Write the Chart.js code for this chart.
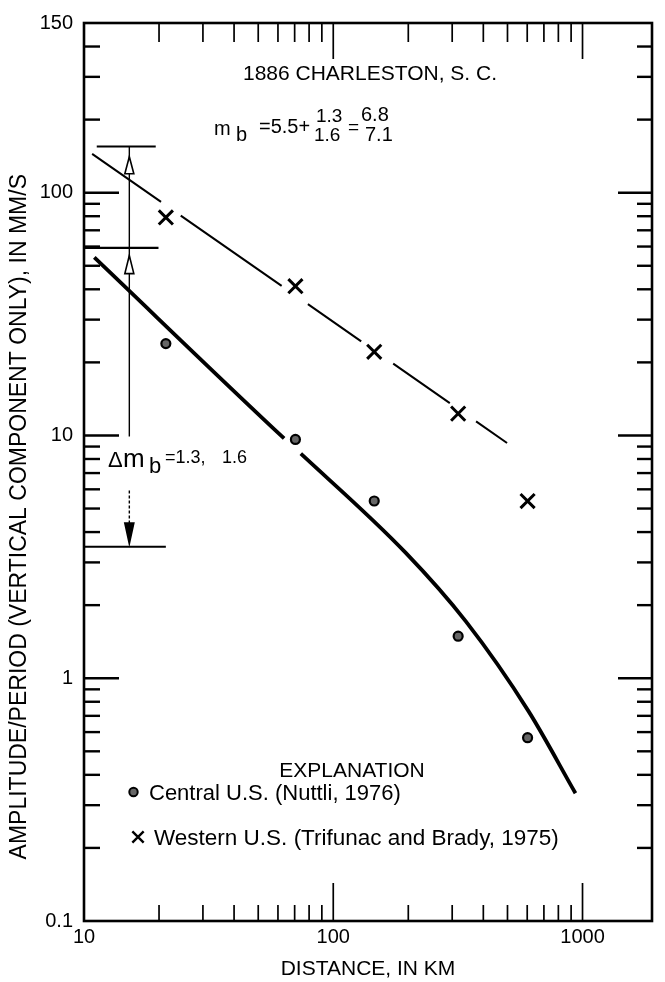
<!DOCTYPE html>
<html><head><meta charset="utf-8">
<script src="https://cdn.jsdelivr.net/npm/chart.js@4.4.0/dist/chart.umd.min.js"></script>
<style>html,body{margin:0;padding:0;background:#fff;} canvas{display:block;}</style>
</head><body>
<canvas id="c" width="665" height="982"></canvas>
<script>
// ---- data ----
const DISTANCE_KM      = [21.3, 70.5, 146, 317, 602];
const CENTRAL_US_MMS   = [23.9, 9.63, 5.37, 1.49, 0.569];
const WESTERN_US_MMS   = [79.1, 41.2, 22.1, 12.3, 5.37];
const CENTRAL_CURVE_KM  = [11.0, 63.5, 74.1, 195, 341, 607, 937];
const CENTRAL_CURVE_MMS = [54.1, 9.72, 8.41, 3.29, 1.71, 0.732, 0.336];
const WESTERN_LINE_KM   = [10.78, 498];
const WESTERN_LINE_MMS  = [144.6, 9.31];
const X_TICK_VALUES = [10,20,30,40,50,60,70,80,90,100,200,300,400,500,600,700,800,900,1000];
const X_LABEL_VALUES = [10, 100, 1000];
const X_LABEL_TEXT   = ['10', '100', '1000'];
const Y_TICK_VALUES = [0.1,0.2,0.3,0.4,0.5,0.6,0.7,0.8,0.9,1,2,3,4,5,6,7,8,9,10,20,30,40,50,60,70,80,90,100,200,300,400,500];
const Y_LABEL_VALUES = [0.1, 1, 10, 100, 500];
const Y_LABEL_TEXT   = ['0.1', '1', '10', '100', '150'];
// delta-mb bracket (km, mm/s)
const BRACKET_X_KM = 15.2;
const BRACKET_LEVELS_MMS = [155, 59.3, 3.48];
const BRACKET_LEVEL_SPAN_KM = [[11.25, 19.4], [10, 19.9], [10, 21.3]];

const FONT = "'Liberation Sans', Arial, Helvetica, sans-serif";
const same = (a, b) => Math.abs(Math.log10(a) - Math.log10(b)) < 1e-6;
const labelFor = (v, vals, txts) => { const i = vals.findIndex(t => same(t, v)); return i < 0 ? '' : txts[i]; };

const frameAndTicks = {
  id: 'frameAndTicks',
  afterDatasetsDraw(chart) {
    const {ctx, chartArea: a, scales: {x, y}} = chart;
    const line = (x1, y1, x2, y2) => { ctx.beginPath(); ctx.moveTo(x1, y1); ctx.lineTo(x2, y2); ctx.stroke(); };
    ctx.save();
    ctx.strokeStyle = '#000';
    ctx.lineWidth = 1.7;
    X_TICK_VALUES.forEach(v => {
      const px = x.getPixelForValue(v);
      if (px <= a.left + 1) return;
      const major = X_LABEL_VALUES.some(t => same(t, v));
      line(px, a.bottom, px, a.bottom - (major ? 38 : 16));
      line(px, a.top, px, a.top + (major ? 36 : 19));
    });
    ctx.lineWidth = 2.4;
    Y_TICK_VALUES.forEach(v => {
      const py = y.getPixelForValue(v);
      if (py <= a.top + 1 || py >= a.bottom - 1) return;
      const major = Y_LABEL_VALUES.some(t => same(t, v));
      line(a.left, py, a.left + (major ? 35 : 16), py);
      line(a.right, py, a.right - (major ? 34 : 15), py);
    });
    ctx.lineWidth = 2.6;
    ctx.strokeRect(a.left, a.top, a.right - a.left, a.bottom - a.top);
    ctx.restore();
  }
};

const annotations = {
  id: 'annotations',
  afterDraw(chart) {
    const {ctx, scales: {x, y}} = chart;
    const line = (x1, y1, x2, y2) => { ctx.beginPath(); ctx.moveTo(x1, y1); ctx.lineTo(x2, y2); ctx.stroke(); };
    const txt = (s, px, py, size, align) => {
      ctx.font = `normal ${size}px ${FONT}`;
      ctx.textAlign = align || 'left';
      ctx.textBaseline = 'alphabetic';
      ctx.fillText(s, px, py);
    };
    ctx.save();
    ctx.fillStyle = '#000';
    ctx.strokeStyle = '#000';
    // bracket
    const bx = x.getPixelForValue(BRACKET_X_KM);
    ctx.lineWidth = 2.2;
    BRACKET_LEVELS_MMS.forEach((v, i) => {
      const py = y.getPixelForValue(v);
      line(x.getPixelForValue(BRACKET_LEVEL_SPAN_KM[i][0]), py, x.getPixelForValue(BRACKET_LEVEL_SPAN_KM[i][1]), py);
    });
    ctx.lineWidth = 1.4;
    line(bx, y.getPixelForValue(155), bx, y.getPixelForValue(9.9));
    ctx.setLineDash([3, 2]);
    line(bx, y.getPixelForValue(5.94), bx, y.getPixelForValue(4.36));
    ctx.setLineDash([]);
    const arrow = (tipV, baseV, filled) => {
      const t = y.getPixelForValue(tipV), b = y.getPixelForValue(baseV);
      ctx.beginPath(); ctx.moveTo(bx, t); ctx.lineTo(bx - 4.5, b); ctx.lineTo(bx + 4.5, b); ctx.closePath();
      ctx.fillStyle = filled ? '#000' : '#fff';
      ctx.fill(); ctx.lineWidth = 1.6; ctx.stroke();
      ctx.fillStyle = '#000';
    };
    arrow(140.7, 119.7, false);
    arrow(55.1, 46.4, false);
    arrow(3.58, 4.36, true);

    // title block
    txt('1886 CHARLESTON, S. C.', 370, 80, 21, 'center');
    txt('m', 214, 135, 20);
    txt('b', 236, 141, 20);
    txt('=5.5+', 259, 133, 20);
    txt('1.3', 316, 122, 19);
    txt('1.6', 314, 141, 19);
    txt('=', 348, 133, 19);
    txt('6.8', 361, 121, 20);
    txt('7.1', 365, 141, 20);
    // delta mb
    txt('\u0394', 108, 467, 22);
    txt('m', 123, 467, 26);
    txt('b', 149, 473, 22);
    txt('=1.3,', 165, 463, 18);
    txt('1.6', 222, 463, 18);
    // explanation
    txt('EXPLANATION', 352, 777, 21, 'center');
    ctx.fillStyle = '#666'; ctx.lineWidth = 2;
    Chart.helpers.drawPoint(ctx, {pointStyle: 'circle', radius: 4.2, borderWidth: 2, rotation: 0}, 133.5, 792);
    ctx.fillStyle = '#000';
    txt('Central U.S. (Nuttli, 1976)', 149, 800, 22);
    ctx.lineWidth = 2.4;
    Chart.helpers.drawPoint(ctx, {pointStyle: 'crossRot', radius: 8, borderWidth: 2.4, rotation: 0}, 138, 837);
    txt('Western U.S. (Trifunac and Brady, 1975)', 154, 845, 22.5);
    ctx.restore();
  }
};

new Chart(document.getElementById('c'), {
  type: 'scatter',
  data: {
    datasets: [
      {
        type: 'line', label: 'Central U.S. fit',
        data: CENTRAL_CURVE_KM.map((k, i) => ({x: k, y: CENTRAL_CURVE_MMS[i]})),
        borderColor: '#000', borderWidth: 3.8, pointRadius: 0, fill: false,
        cubicInterpolationMode: 'monotone',
        segment: {borderColor: c => c.p0DataIndex === 1 ? 'rgba(0,0,0,0)' : '#000'}
      },
      {
        type: 'line', label: 'Western U.S. fit',
        data: WESTERN_LINE_KM.map((k, i) => ({x: k, y: WESTERN_LINE_MMS[i]})),
        borderColor: '#000', borderWidth: 2, pointRadius: 0, fill: false,
        borderDash: [84, 24, 123, 32, 65, 39, 69, 32, 45, 400]
      },
      {
        label: 'Central U.S. (Nuttli, 1976)',
        data: DISTANCE_KM.map((k, i) => ({x: k, y: CENTRAL_US_MMS[i]})),
        pointStyle: 'circle', pointRadius: 4.5, pointBorderWidth: 2.2,
        pointBackgroundColor: '#666', pointBorderColor: '#000'
      },
      {
        label: 'Western U.S. (Trifunac and Brady, 1975)',
        data: DISTANCE_KM.map((k, i) => ({x: k, y: WESTERN_US_MMS[i]})),
        pointStyle: 'crossRot', pointRadius: 10, pointBorderWidth: 3,
        pointBorderColor: '#000', pointBackgroundColor: '#000'
      }
    ]
  },
  options: {
    responsive: false, animation: false, events: [],
    layout: {padding: {top: 20, right: 2, left: 0, bottom: 0}},
    plugins: {legend: {display: false}, tooltip: {enabled: false}},
    scales: {
      x: {
        type: 'logarithmic', position: 'bottom', min: 10, max: 1900,
        grid: {display: false, drawTicks: false}, border: {display: false},
        afterBuildTicks: s => { s.ticks = X_TICK_VALUES.map(v => ({value: v})); },
        afterFit: s => { s.height = 61; },
        ticks: {autoSkip: false, maxRotation: 0, padding: 4, color: '#000',
          font: {family: FONT, size: 20},
          callback: v => labelFor(v, X_LABEL_VALUES, X_LABEL_TEXT)},
        title: {display: true, text: 'DISTANCE, IN KM', color: '#000',
          font: {family: FONT, size: 21}, padding: {top: 0, bottom: 0}}
      },
      y: {
        type: 'logarithmic', position: 'left', min: 0.1, max: 500,
        grid: {display: false, drawTicks: false}, border: {display: false},
        afterBuildTicks: s => { s.ticks = Y_TICK_VALUES.map(v => ({value: v})); },
        afterFit: s => { s.width = 84; },
        ticks: {autoSkip: false, padding: 11, color: '#000',
          font: {family: FONT, size: 20},
          callback: v => labelFor(v, Y_LABEL_VALUES, Y_LABEL_TEXT)},
        title: {display: true, text: 'AMPLITUDE/PERIOD (VERTICAL COMPONENT ONLY), IN MM/S              ',
          color: '#000', font: {family: FONT, size: 23}, padding: {top: 6, bottom: 0}}
      }
    }
  },
  plugins: [frameAndTicks, annotations]
});
</script>
</body></html>
